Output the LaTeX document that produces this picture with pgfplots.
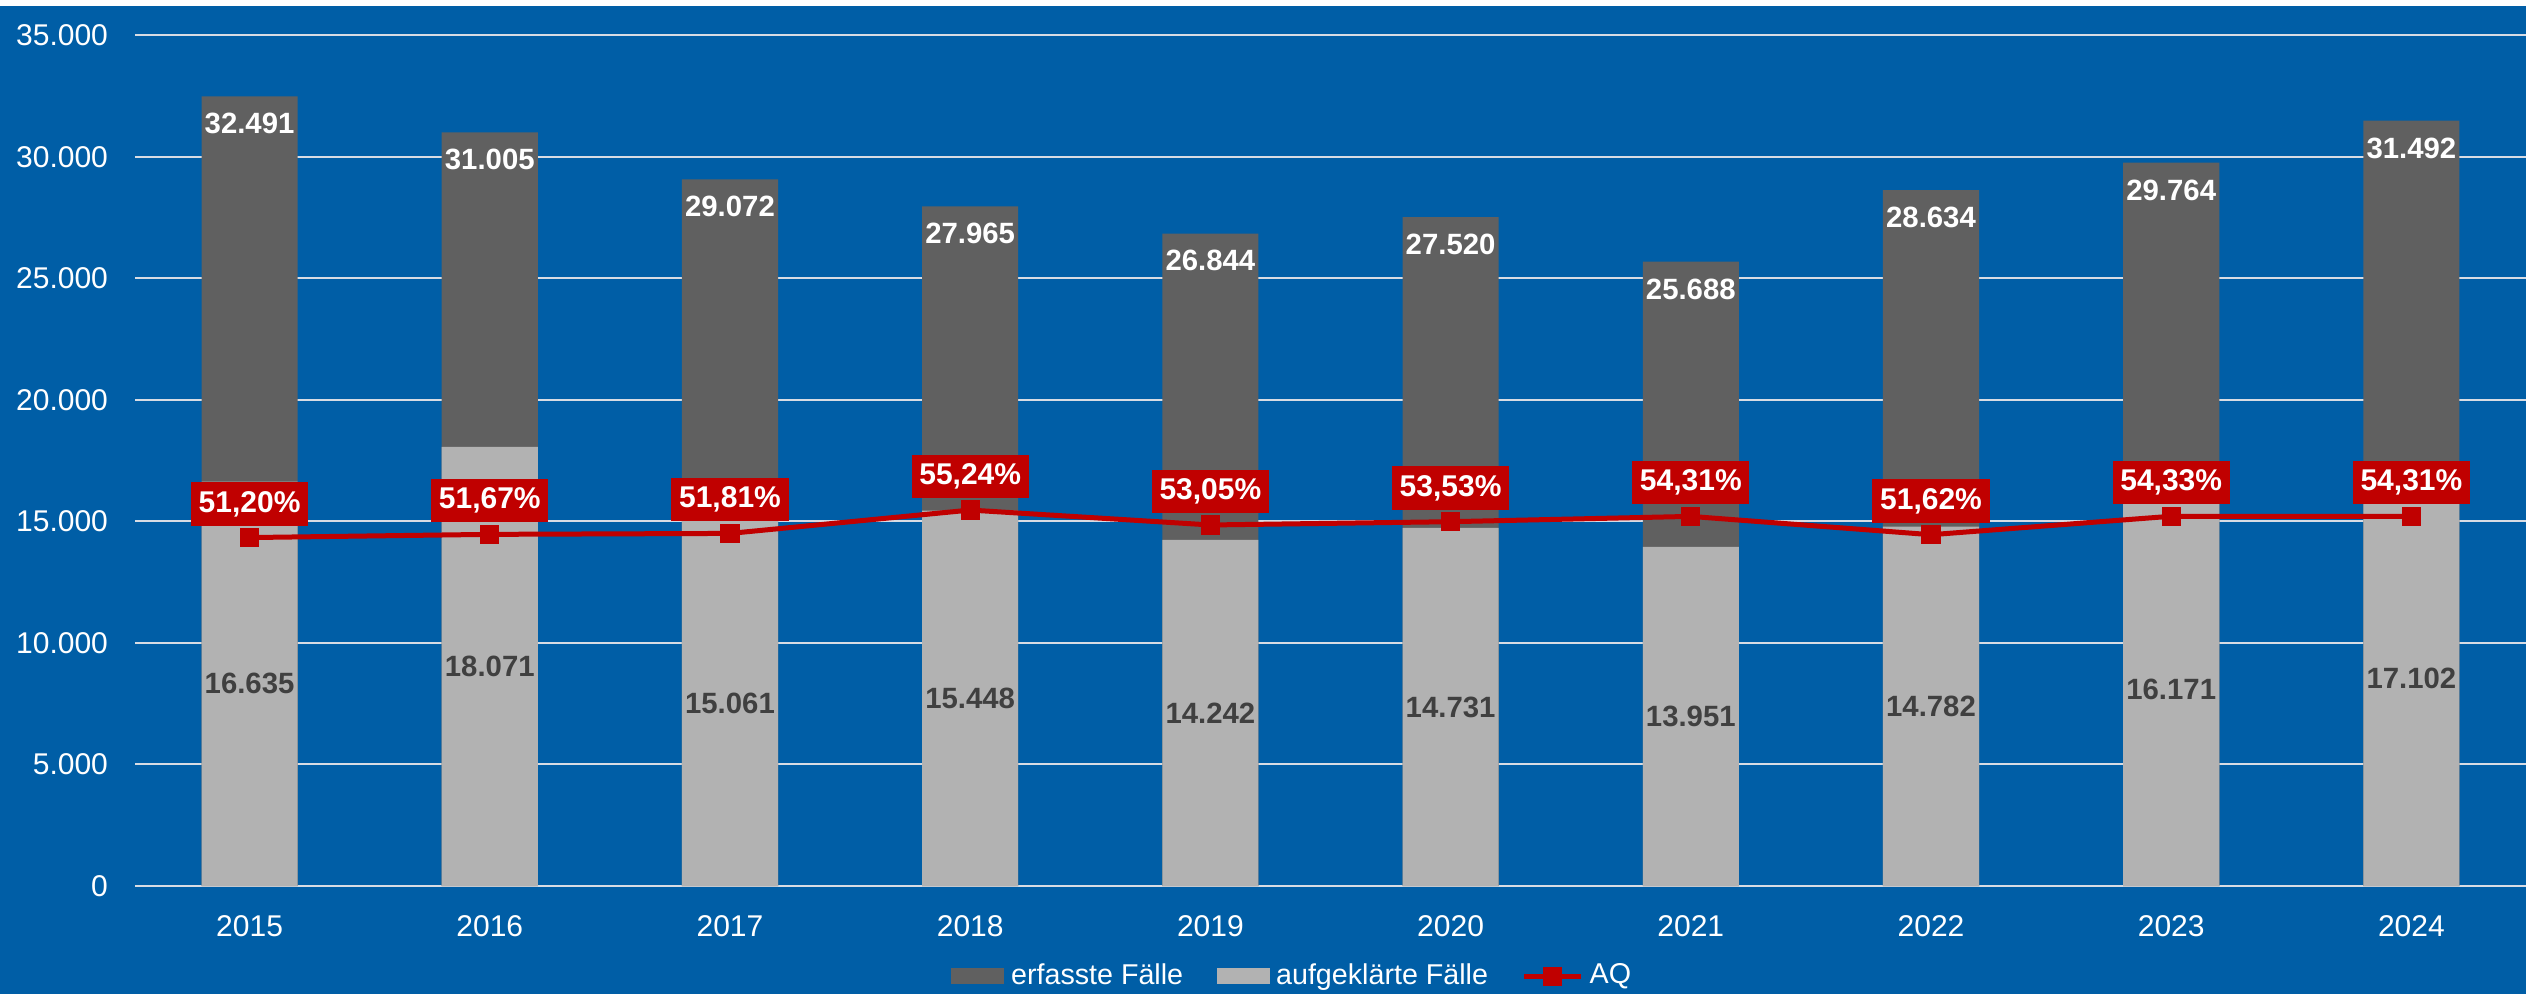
\documentclass[border=0pt]{standalone}
\usepackage{fontspec}
\setmainfont{Liberation Sans}
\usepackage{pgfplots}
\pgfplotsset{compat=1.18}
\usepackage{pgfplotstable}
\definecolor{bgblue}{RGB}{0,94,166}
\definecolor{darkbar}{RGB}{96,96,96}
\definecolor{lightbar}{RGB}{178,178,178}
\definecolor{aqred}{RGB}{192,0,0}
\definecolor{gridc}{RGB}{215,220,228}
\definecolor{lbltxt}{RGB}{64,64,64}

\pgfplotstableread{
idx year erf auf aq
0 2015 32491 16635 51.20
1 2016 31005 18071 51.67
2 2017 29072 15061 51.81
3 2018 27965 15448 55.24
4 2019 26844 14242 53.05
5 2020 27520 14731 53.53
6 2021 25688 13951 54.31
7 2022 28634 14782 51.62
8 2023 29764 16171 54.33
9 2024 31492 17102 54.31
}\data

\newcommand{\fs}{\fontsize{9bp}{11bp}\selectfont}
\newcommand{\fd}{\fontsize{8.8bp}{10bp}\selectfont}
\newcommand{\fl}{\fontsize{8.6bp}{10bp}\selectfont}

\begin{document}
\begin{tikzpicture}
\useasboundingbox (0,0) rectangle (757.8bp,298.2bp);
\fill[bgblue] (0,0) rectangle (757.8bp,296.4bp);
\fill[white] (0,296.4bp) rectangle (757.8bp,298.2bp);
\begin{axis}[
  at={(40.5bp,32.4bp)}, anchor=south west,
  scale only axis, width=717.3bp, height=255.2bp,
  xmin=-0.477, xmax=9.477, ymin=0, ymax=35000,
  xtick={0,...,9}, xticklabels={2015,2016,2017,2018,2019,2020,2021,2022,2023,2024},
  ytick={0,5000,...,35000},
  scaled y ticks=false,
  major tick length=0pt,
  axis line style={draw=none},
  ymajorgrids, grid style={gridc, line width=0.6bp},
  tick label style={font=\fs, text=white},
  xticklabel style={yshift=-5.3bp},
  yticklabel style={xshift=-4.6bp},
  /pgf/number format/1000 sep={.},
  /pgf/number format/assume math mode=true,
  clip=false,
]
\addplot[ybar, bar shift=0pt, bar width=0.4, fill=darkbar, draw=none,
  nodes near coords,
  every node near coord/.append style={font=\bfseries\fd, text=white, anchor=center, yshift=-8.2bp}]
  table[x=idx, y=erf]{\data};
\addplot[ybar, bar shift=0pt, bar width=0.4, fill=lightbar, draw=none]
  table[x=idx, y=auf]{\data};
\addplot[draw=none, mark=none, nodes near coords, point meta=explicit,
  every node near coord/.append style={font=\bfseries\fd, text=lbltxt, anchor=center}]
  table[x=idx, y expr=\thisrow{auf}/2, meta=auf]{\data};
\end{axis}
\begin{axis}[
  at={(40.5bp,32.4bp)}, anchor=south west,
  scale only axis, width=717.3bp, height=255.2bp,
  xmin=-0.477, xmax=9.477, ymin=0, ymax=125,
  hide axis, clip=false,
  /pgf/number format/assume math mode=true,
  legend columns=-1,
  legend style={at={(0.485,-0.106)}, anchor=center, draw=none, fill=none,
    text=white, font=\fl, inner sep=0pt,
    /tikz/every even column/.append style={column sep=8bp}},
]
\addlegendimage{legend image code/.code={\fill[darkbar] (0bp,-2.2bp) rectangle (15.5bp,2.2bp);}}
\addlegendentry{erfasste Fälle}
\addlegendimage{legend image code/.code={\fill[lightbar] (0bp,-2.2bp) rectangle (15.5bp,2.2bp);}}
\addlegendentry{aufgeklärte Fälle}
\addplot[aqred, line width=1.5bp, mark=square*, mark size=2.15bp, mark options={solid, fill=aqred},
  nodes near coords={\pgfmathprintnumber[fixed, fixed zerofill, precision=2, use comma]{\pgfplotspointmeta}\%},
  point meta=explicit,
  every node near coord/.append style={font=\bfseries\fs, text=white, fill=aqred, anchor=center,
    inner xsep=2.3bp, inner ysep=0pt, minimum height=13bp, yshift=10.1bp}]
  table[x=idx, y=aq, meta=aq]{\data};
\addlegendentry{AQ}
\end{axis}
\end{tikzpicture}
\end{document}
